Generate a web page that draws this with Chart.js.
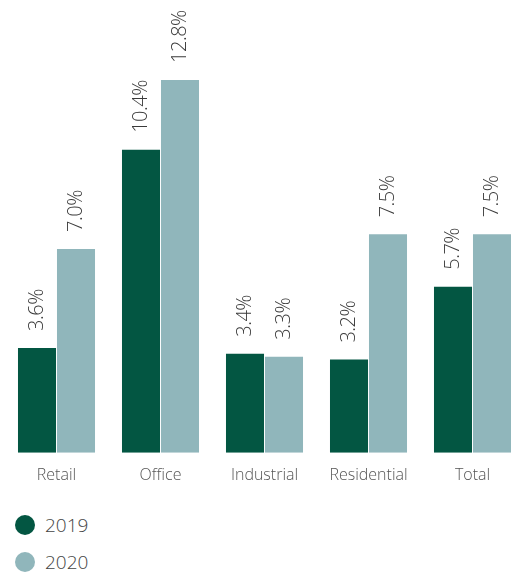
<!DOCTYPE html>
<html>
<head>
<meta charset="utf-8">
<script src="https://cdn.jsdelivr.net/npm/chart.js@4"></script>
<style>
  body { margin: 0; overflow: hidden; background: #fff; font-family: "Open Sans", sans-serif; }
  #wrap { position: relative; width: 525px; height: 498px; }
  #legend { position: absolute; left: 15px; top: 506px; }
  .item { display: flex; align-items: center; height: 37px; font-size: 19px; font-weight: 300; color: #444; }
  .dot { width: 20px; height: 20px; border-radius: 50%; margin-right: 10px; }
</style>
</head>
<body>
<div id="wrap"><canvas id="chart"></canvas></div>
<div id="legend"></div>
<script>
// ---- data ----
const categories = ["Retail", "Office", "Industrial", "Residential", "Total"];
const values2019 = [3.6, 10.4, 3.4, 3.2, 5.7];
const values2020 = [7.0, 12.8, 3.3, 7.5, 7.5];
const seriesNames = ["2019", "2020"];
const seriesColors = ["#035642", "#90b6bb"];

// rotated value labels above each bar
const valueLabels = {
  id: "valueLabels",
  afterDatasetsDraw(chart) {
    const ctx = chart.ctx;
    ctx.save();
    ctx.fillStyle = "#3a3a3a";
    ctx.font = "300 20px 'Open Sans'";
    ctx.letterSpacing = "-0.5px";
    ctx.textAlign = "left";
    ctx.textBaseline = "middle";
    chart.data.datasets.forEach((ds, i) => {
      chart.getDatasetMeta(i).data.forEach((bar, j) => {
        ctx.save();
        ctx.translate(bar.x, bar.y - 17);
        ctx.rotate(-Math.PI / 2);
        ctx.fillText(ds.data[j].toFixed(1) + "%", 0, 0);
        ctx.restore();
      });
    });
    ctx.restore();
  }
};

const chart = new Chart(document.getElementById("chart"), {
  type: "bar",
  data: {
    labels: categories,
    datasets: [
      { label: seriesNames[0], data: values2019, backgroundColor: seriesColors[0] },
      { label: seriesNames[1], data: values2020, backgroundColor: seriesColors[1] }
    ]
  },
  options: {
    responsive: true,
    maintainAspectRatio: false,
    animation: false,
    categoryPercentage: 0.75,
    barPercentage: 0.975,
    layout: { padding: { left: 4.5, right: 0.5, top: 45, bottom: 0 } },
    plugins: { legend: { display: false }, tooltip: { enabled: false } },
    scales: {
      x: {
        grid: { display: false, drawTicks: false },
        border: { display: false },
        ticks: { color: "#555", font: { family: "Open Sans", size: 16, weight: 300 }, padding: 13 }
      },
      y: { display: false, min: 0, max: 14 }
    }
  },
  plugins: [valueLabels]
});

// legend
const legend = document.getElementById("legend");
chart.data.datasets.forEach(ds => {
  const row = document.createElement("div");
  row.className = "item";
  row.innerHTML = `<span class="dot" style="background:${ds.backgroundColor}"></span><span>${ds.label}</span>`;
  legend.appendChild(row);
});
</script>
</body>
</html>
